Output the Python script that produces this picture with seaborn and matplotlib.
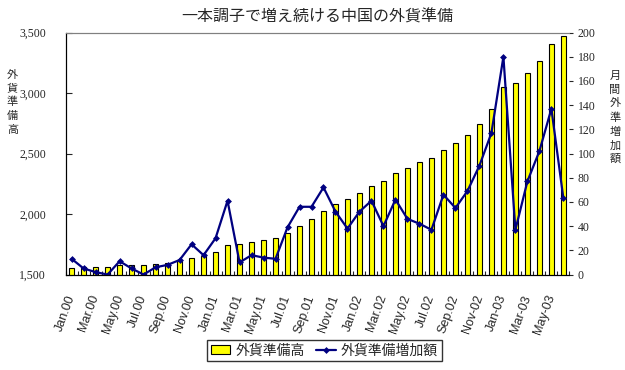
import numpy as np
import pandas as pd
import matplotlib
matplotlib.use("Agg")
import matplotlib.pyplot as plt
import seaborn as sns

# monthly data, Jan 2000 - Jun 2003
months = pd.period_range("2000-01", periods=42, freq="M").strftime("%Y-%m").tolist()

# foreign reserves (left axis)
reserves = [1552, 1560, 1560, 1560, 1576, 1576, 1576, 1584, 1592, 1609, 1634, 1650,
            1683, 1741, 1750, 1766, 1783, 1799, 1840, 1898, 1956, 2022, 2081, 2121,
            2171, 2229, 2270, 2336, 2378, 2427, 2460, 2526, 2584, 2650, 2741, 2865,
            3047, 3080, 3163, 3262, 3402, 3468]

# monthly increase (right axis)
increase = [13, 5, 2, 0, 11, 5, 0, 6, 8, 12, 25, 16,
            30, 61, 10, 16, 14, 13, 39, 56, 56, 72, 52, 38,
            52, 61, 40, 62, 46, 42, 37, 66, 55, 69, 90, 117,
            180, 37, 77, 102, 137, 63]

tick_labels = ['Jan.00', 'Mar.00', 'May.00', 'Jul.00', 'Sep.00', 'Nov.00',
               'Jan.01', 'Mar.01', 'May.01', 'Jul.01', 'Sep.01', 'Nov.01',
               'Jan.02', 'Mar.02', 'May.02', 'Jul.02', 'Sep.02', 'Nov-02',
               'Jan-03', 'Mar-03', 'May-03']

sns.set_style("white")
plt.rcParams['font.family'] = ['Noto Sans CJK JP', 'DejaVu Sans']

df = pd.DataFrame({'month': months, 'reserves': reserves, 'increase': increase})

fig = plt.figure(figsize=(6.25, 3.7), dpi=100)
ax = fig.add_axes([0.105, 0.258, 0.806, 0.654])

sns.barplot(data=df, x='month', y='reserves', color='#FFFF00', saturation=1,
            edgecolor='black', linewidth=0.8, width=0.42, label='外貨準備高', ax=ax)

ax2 = ax.twinx()
sns.pointplot(data=df, x='month', y='increase', color='#000080', markers='D',
              markersize=2.3, linewidth=1.6, errorbar=None, label='外貨準備増加額', ax=ax2)

n = len(months)
ax.set_xlim(-0.5, n - 0.5)
ax.set_ylim(1500, 3500)
ax2.set_ylim(0, 200)

ax.set_xlabel('')
ax.set_ylabel('')
ax2.set_xlabel('')
ax2.set_ylabel('')

# left axis
ax.set_yticks(np.arange(1500, 3501, 500))
ax.set_yticklabels([f'{v:,}' for v in range(1500, 3501, 500)],
                   fontfamily='Liberation Serif', fontsize=8.5)
ax.tick_params(axis='y', direction='in', length=4, width=0.8, pad=14, left=True)

# right axis
ax2.set_yticks(np.arange(0, 201, 20))
ax2.set_yticklabels([str(v) for v in range(0, 201, 20)],
                    fontfamily='Liberation Serif', fontsize=8.5)
ax2.tick_params(axis='y', direction='out', length=3, width=0.8, pad=3, right=True)

# x axis: labels every other month, boundary ticks inside
ax.set_xticks(np.arange(0, n, 2))
ax.set_xticklabels(tick_labels, rotation=70, ha='right', va='center',
                   rotation_mode='anchor', fontfamily='Liberation Sans', fontsize=9)
ax.tick_params(axis='x', which='major', length=0, pad=15)
ax.set_xticks(np.arange(-0.5, n, 1), minor=True)
ax.tick_params(axis='x', which='minor', direction='in', length=3, width=0.8, bottom=True)

for a in (ax, ax2):
    a.spines['left'].set_color('black')
    a.spines['bottom'].set_color('black')
    a.spines['top'].set_color('#808080')
    a.spines['right'].set_visible(False)
    a.grid(False)

fig.text(0.507, 0.955, '一本調子で増え続ける中国の外貨準備', ha='center', va='center', fontsize=11.5)
fig.text(0.02, 0.724, '\n'.join('外貨準備高'), ha='center', va='center', fontsize=8, linespacing=1.45)
fig.text(0.984, 0.682, '\n'.join('月間外準増加額'), ha='center', va='center', fontsize=8, linespacing=1.45)

h1, l1 = ax.get_legend_handles_labels()
h2, l2 = ax2.get_legend_handles_labels()
if ax2.get_legend() is not None:
    ax2.get_legend().remove()
if ax.get_legend() is not None:
    ax.get_legend().remove()
leg = fig.legend(h1 + h2, l1 + l2, loc='center', bbox_to_anchor=(0.519, 0.053), ncol=2,
                 frameon=True, fancybox=False, edgecolor='black', fontsize=10,
                 handlelength=1.4, handletextpad=0.4, columnspacing=0.8, borderpad=0.25)
leg.get_frame().set_linewidth(1)

fig.savefig('out.png', dpi=100)
